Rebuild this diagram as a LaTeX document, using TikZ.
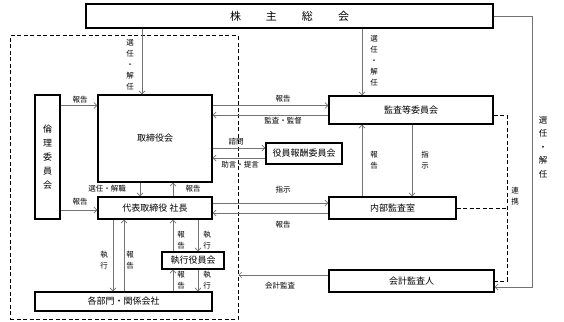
\documentclass[tikz,border=0pt]{standalone}
\usepackage{fontspec}
\setmainfont{Noto Sans CJK JP}
\usetikzlibrary{arrows.meta}

\tikzset{
  box/.style={draw=black, line width=1.1pt, inner sep=0pt, fill=white, font=\fontsize{9}{11}\selectfont},
  arr/.style={draw=black!55, line width=0.7pt, -{Straight Barb[length=3pt,width=6pt]}},
  lbl/.style={inner sep=0pt, font=\fontsize{7.5}{9}\selectfont},
  vlbl/.style={inner sep=0pt, align=center, font=\fontsize{7.5}{11}\selectfont},
  link/.style={draw=black, line width=1pt, dash pattern=on 4pt off 2.5pt},
}

\begin{document}
\begin{tikzpicture}[x=1pt,y=-1pt]
\useasboundingbox (0,0) rectangle (564,321);
% the executive side, inside the dashed frame
\node[link, inner sep=0pt, minimum width=228pt, minimum height=283pt] (gyomu) at (124,177.5) {};
% the bodies
\node[box, minimum width=407pt, minimum height=24pt, font=\fontsize{11}{13}\selectfont] (kabu) at (289.5,16) {株\hspace{25pt}主\hspace{25pt}総\hspace{25pt}会};
\node[box, minimum width=25pt, minimum height=124pt, align=center, font=\fontsize{9}{14}\selectfont] (rinri) at (47.5,157) {倫\\理\\委\\員\\会};
\node[box, minimum width=114pt, minimum height=87pt] (tori) at (155,138.5) {取締役会};
\node[box, minimum width=164pt, minimum height=28pt] (kansa) at (411,110) {監査等委員会};
\node[box, minimum width=76pt, minimum height=21pt] (hoshu) at (304,153.5) {役員報酬委員会};
\node[box, minimum width=114pt, minimum height=22pt] (shacho) at (155,208) {代表取締役 社長};
\node[box, minimum width=127pt, minimum height=22pt] (naibu) at (392.5,208) {内部監査室};
\node[box, minimum width=62pt, minimum height=17pt] (shikko) at (193,260.5) {執行役員会};
\node[box, minimum width=177pt, minimum height=19pt] (kakubu) at (123.5,301.5) {各部門・関係会社};
\node[box, minimum width=165pt, minimum height=22pt] (kaikei) at (411.5,281) {会計監査人};
% lanes the connectors run on
\coordinate (xtori) at (142,0); \coordinate (xkansa) at (362,0); \coordinate (xshiji) at (412,0);
\coordinate (xdown) at (140,0); \coordinate (xup) at (173,0); \coordinate (xexec) at (113,0);
\coordinate (xrep) at (124,0); \coordinate (xshikko) at (198,0);
\coordinate (xlink) at (507,0); \coordinate (xright) at (532,0);
\coordinate (yrep) at (0,105.5); \coordinate (ykan) at (0,115); \coordinate (yshimon) at (0,148);
\coordinate (yjogen) at (0,158); \coordinate (yshiji) at (0,203); \coordinate (yrinri) at (0,210);
\coordinate (ynaibu) at (0,213); \coordinate (ykaikei) at (0,275); \coordinate (yright) at (0,287);
% shareholders elect
\draw[arr] (kabu.south -| xtori) -- (tori.north -| xtori);
\draw[arr] (kabu.south -| xkansa) -- (kansa.north -| xkansa);
\draw[arr] (kabu.east) -| (xright |- yright) -- (kaikei.east |- yright);
% board and committees
\draw[arr] (rinri.east |- yrep) -- (tori.west |- yrep);
\draw[arr] (tori.east |- yrep) -- (kansa.west |- yrep);
\draw[arr] (kansa.west |- ykan) -- (tori.east |- ykan);
\draw[arr] (tori.east |- yshimon) -- (hoshu.west |- yshimon);
\draw[arr] (hoshu.west |- yjogen) -- (tori.east |- yjogen);
\draw[arr] (tori.south -| xdown) -- (shacho.north -| xdown);
\draw[arr] (shacho.north -| xup) -- (tori.south -| xup);
\draw[arr] (rinri.east |- yrinri) -- (shacho.west |- yrinri);
% audit
\draw[arr] (shacho.east |- yshiji) -- (naibu.west |- yshiji);
\draw[arr] (naibu.west |- ynaibu) -- (shacho.east |- ynaibu);
\draw[arr] (naibu.north -| xkansa) -- (kansa.south -| xkansa);
\draw[arr] (kansa.south -| xshiji) -- (naibu.north -| xshiji);
\draw[arr] (kaikei.west |- ykaikei) -- (gyomu.east |- ykaikei);
\draw[link] (kansa.east |- ykan) -| (xlink |- kaikei.east) -- (kaikei.east);
\draw[link] (naibu.east) -- (xlink |- naibu.east);
% execution
\draw[arr] (shacho.south -| xexec) -- (kakubu.north -| xexec);
\draw[arr] (kakubu.north -| xrep) -- (shacho.south -| xrep);
\draw[arr] (shikko.north -| xup) -- (shacho.south -| xup);
\draw[arr] (shacho.south -| xshikko) -- (shikko.north -| xshikko);
\draw[arr] (kakubu.north -| xup) -- (shikko.south -| xup);
\draw[arr] (shikko.south -| xshikko) -- (kakubu.north -| xshikko);
% labels
\node[vlbl] (senL) at (130,64.5) {選\\任\\・\\解\\任};
\node[vlbl] (senM) at (374,61) {選\\任\\・\\解\\任};
\node[vlbl, font=\fontsize{8.5}{13.5}\selectfont] (senR) at (543,147) {選\\任\\・\\解\\任};
\node[vlbl] (renkei) at (515,196) {連\\携};
\node[lbl] (hokoku1) at (80,100) {報告};
\node[lbl] (hokoku2) at (283,99) {報告};
\node[lbl] (kansatoku) at (283,120.5) {監査・監督};
\node[lbl] (shimon) at (236,141.5) {諮問};
\node[lbl] (jogen) at (240,165) {助言・提言};
\node[lbl] (senkai) at (107,189) {選任・解職};
\node[lbl] (hokoku3) at (193,189) {報告};
\node[lbl] (hokoku4) at (80,202) {報告};
\node[lbl] (shiji1) at (283,190) {指示};
\node[lbl] (hokoku5) at (283,225) {報告};
\node[vlbl] (hokoku6) at (374,160) {報\\告};
\node[vlbl] (shiji2) at (425,160) {指\\示};
\node[vlbl] (shikko1) at (104,260) {執\\行};
\node[vlbl] (hokoku7) at (130,260) {報\\告};
\node[vlbl] (hokoku8) at (181,240.5) {報\\告};
\node[vlbl] (shikko2) at (207,240.5) {執\\行};
\node[vlbl] (hokoku9) at (181,280.5) {報\\告};
\node[vlbl] (shikko3) at (207,280.5) {執\\行};
\node[lbl] (kaikeikansa) at (280,286) {会計監査};
\end{tikzpicture}
\end{document}
